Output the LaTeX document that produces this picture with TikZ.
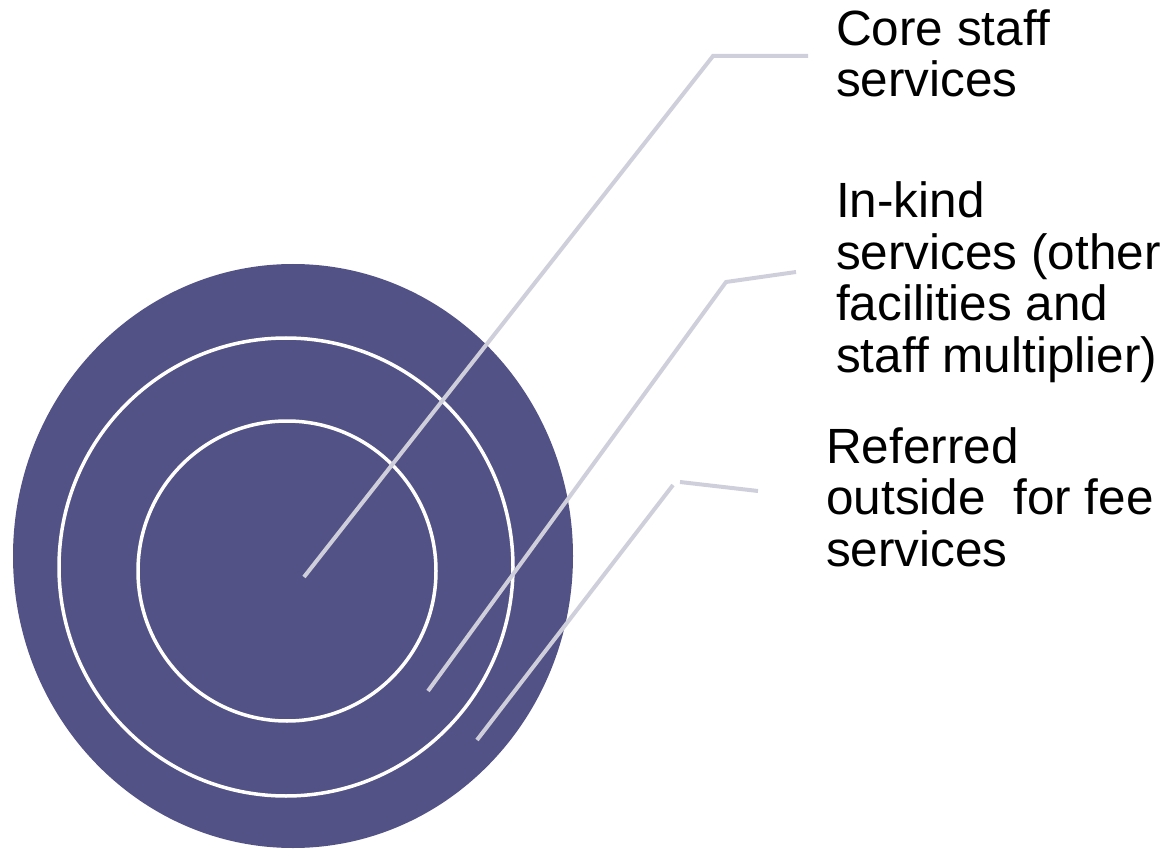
\documentclass[tikz,border=0pt]{standalone}
\usepackage{fontspec}
\setmainfont{Liberation Sans}
\definecolor{discfill}{HTML}{525286}
\definecolor{leader}{HTML}{CFCFDC}
\tikzset{
  ring/.style={draw=white, line width=3.5pt},
  leaderline/.style={draw=leader, line width=4pt},
  lbl/.style={anchor=base west, inner sep=0pt, align=left,
    font=\fontsize{49.5}{51.5}\selectfont, text=black}
}
\begin{document}
\begin{tikzpicture}[x=1pt,y=-1pt]
\useasboundingbox (0,0) rectangle (1171,853);
% disc and rings
\fill[discfill] (293,556) ellipse [x radius=280, y radius=292];
\draw[ring] (286,567) ellipse [x radius=227, y radius=229];
\draw[ring] (287,571) ellipse [x radius=149, y radius=150];
% labels (base anchor = baseline of the last line)
\node[lbl] (core) at (836,97) {Core staff\\services};
\node[lbl] (inkind) at (836,372) {In-kind\\services (other\\facilities and\\staff multiplier)};
\node[lbl] (ref) at (826,566) {Referred\\outside~~for fee\\services};
% leader coordinates
\coordinate (c1a) at (304,577);
\coordinate (c1b) at (713,56);
\coordinate (c1c) at (808,56);
\coordinate (c2a) at (428,691);
\coordinate (c2b) at (726,282);
\coordinate (c2c) at (796,272);
\coordinate (c3a) at (477,740);
\coordinate (c3b) at (673,485);
\coordinate (c3c) at (680,482);
\coordinate (c3d) at (758,491);
\draw[leaderline] (c1a) -- (c1b) -- (c1c);
\draw[leaderline] (c2a) -- (c2b) -- (c2c);
\draw[leaderline] (c3a) -- (c3b);
\draw[leaderline] (c3c) -- (c3d);
\end{tikzpicture}
\end{document}
